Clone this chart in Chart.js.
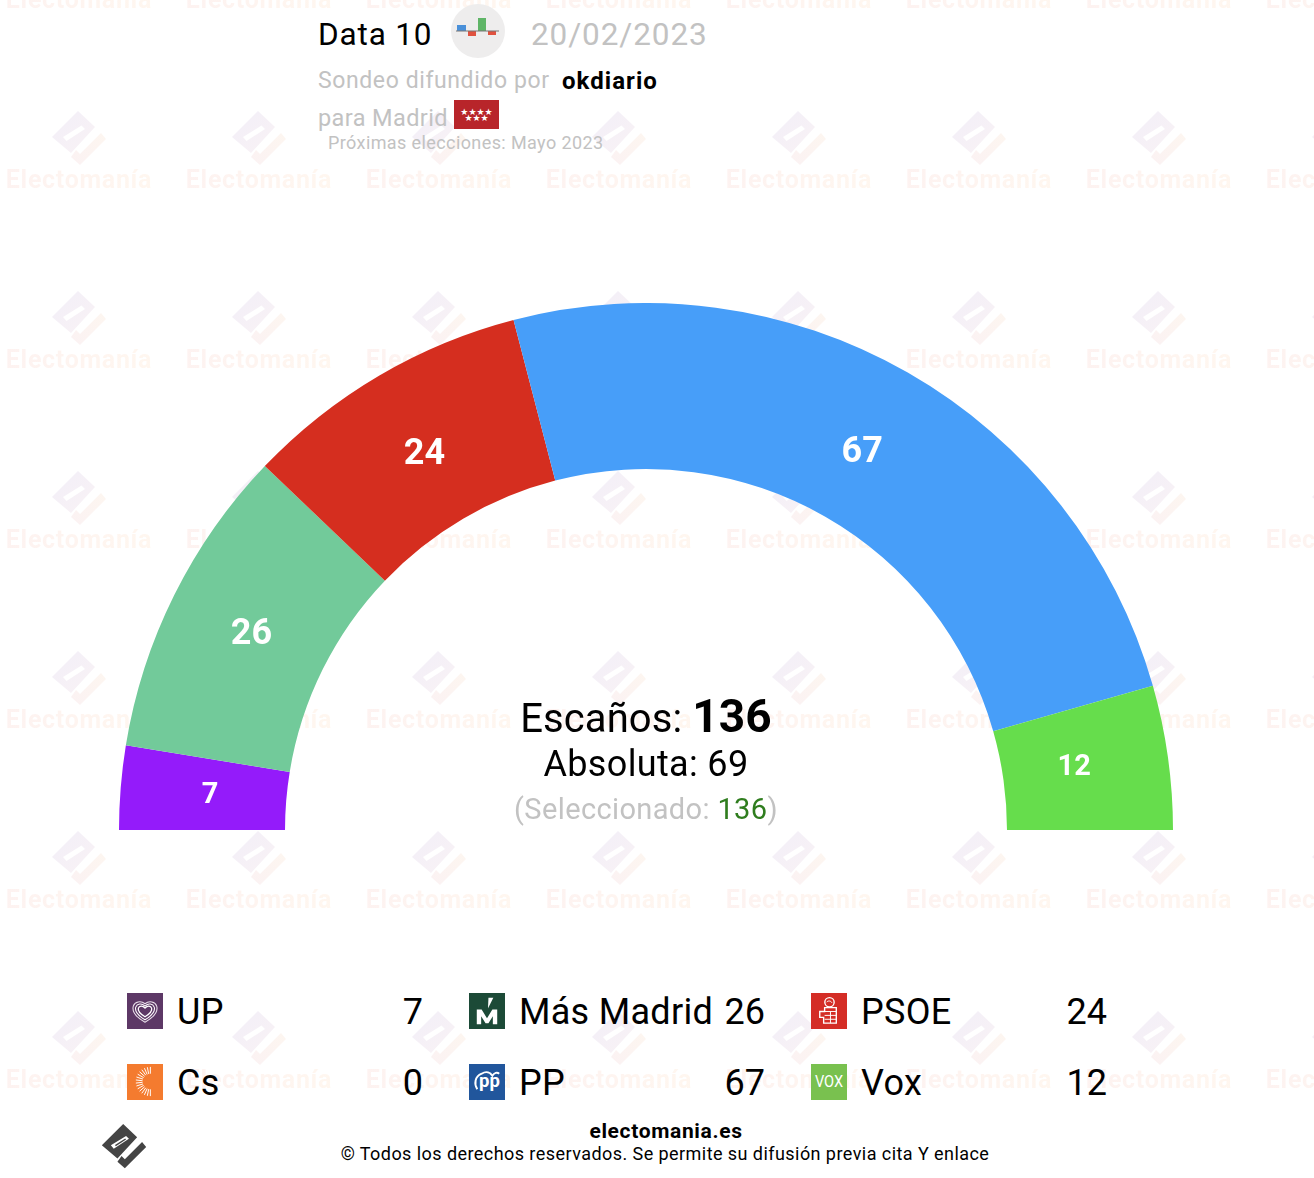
<!DOCTYPE html>
<html lang="es">
<head>
<meta charset="utf-8">
<title>Data 10 - Madrid</title>
<script src="https://cdn.jsdelivr.net/npm/chart.js@4"></script>
<style>
    html, body { margin: 0; padding: 0; background: #fff; }
    body { width: 1314px; height: 1178px; position: relative; overflow: hidden; font-family: Roboto, sans-serif; color: #000; }
    .abs { position: absolute; white-space: nowrap; }
    .wm-text {
        position: absolute; width: 180px; text-align: center; font-size: 25px; font-weight: 700; line-height: 30px; letter-spacing: 0.7px;
        background: linear-gradient(90deg, #fdf2f1, #fff7ef); -webkit-background-clip: text; background-clip: text; color: transparent;
    }
    .wm-logo { position: absolute; width: 54px; height: 56px; }
    #gauge { position: absolute; left: 119px; top: 303px; }
    .grey { color: #c2c2c2; }
    .center-line { position: absolute; left: 346px; width: 600px; text-align: center; white-space: nowrap; }
    .legend-label { position: absolute; font-size: 36px; line-height: 42px; white-space: nowrap; letter-spacing: 0.3px; }
    .legend-value { position: absolute; font-size: 36px; line-height: 42px; text-align: right; width: 80px; }
    .legend-icon { position: absolute; width: 36px; height: 36px; }
</style>
</head>
<body>

<svg width="0" height="0" style="position:absolute">
    <defs>
        <linearGradient id="wmBody" x1="0" y1="0" x2="1" y2="1"><stop offset="0" stop-color="#f2eff8"/><stop offset="1" stop-color="#f9f2f5"/></linearGradient>
        <linearGradient id="wmFoot" x1="0" y1="1" x2="1" y2="0"><stop offset="0" stop-color="#fbf2f3"/><stop offset="1" stop-color="#fdf6f0"/></linearGradient>
    </defs>
</svg>

<div id="watermarks"></div>

<!-- header -->
<div class="abs" style="left:318px;top:16px;font-size:31.5px;line-height:38px;letter-spacing:0.85px">Data 10</div>
<svg class="abs" style="left:450px;top:3px" width="56" height="56" viewBox="0 0 56 56">
    <circle cx="28" cy="28" r="27" fill="#eeeded"/>
    <rect x="7" y="22" width="9" height="6" fill="#4a90d9"/>
    <rect x="18" y="28" width="8" height="5" fill="#e0523f"/>
    <rect x="28" y="15" width="8" height="13" fill="#5fb567"/>
    <rect x="38" y="28" width="8" height="4" fill="#e0523f"/>
    <rect x="6" y="27.5" width="43" height="1" fill="#777"/>
</svg>
<div class="abs grey" style="left:531px;top:16px;font-size:31.5px;line-height:38px;letter-spacing:0.9px">20/02/2023</div>
<div class="abs grey" style="left:318px;top:67px;font-size:23px;line-height:28px;letter-spacing:0.6px">Sondeo difundido por</div>
<div class="abs" style="left:562px;top:67px;font-size:24px;line-height:28px;font-weight:700;letter-spacing:1.05px">okdiario</div>
<div class="abs grey" style="left:318px;top:104px;font-size:23.5px;line-height:28px;letter-spacing:0.4px">para Madrid</div>
<svg class="abs" style="left:454px;top:100px" width="45" height="29" viewBox="0 0 45 29">
    <rect width="45" height="29" fill="#b8252a"/>
    <text x="22.5" y="15" text-anchor="middle" font-family="DejaVu Sans" font-size="9" fill="#fff">★★★★</text>
    <text x="22.5" y="21" text-anchor="middle" font-family="DejaVu Sans" font-size="9" fill="#fff">★★★</text>
</svg>
<div class="abs grey" style="left:328px;top:132px;font-size:18px;line-height:22px;letter-spacing:0.4px">Próximas elecciones: Mayo 2023</div>

<canvas id="gauge" width="1054" height="527" style="width:1054px;height:527px"></canvas>

<!-- centre text -->
<div class="center-line" id="seatsLine" style="top:689px;line-height:54px;font-size:40px;letter-spacing:0.1px"></div>
<div class="center-line" id="majorityLine" style="top:743px;line-height:42px;font-size:36px;letter-spacing:0.35px"></div>
<div class="center-line grey" id="selectedLine" style="top:792px;line-height:34px;font-size:29px;letter-spacing:0.37px"></div>

<div id="legend"></div>

<!-- footer -->
<svg class="abs" style="left:101px;top:1124px" width="46" height="46" viewBox="0 0 54 56">
    <path fill="#444" fill-rule="evenodd" d="M26 0L43 16L19 42L0 26ZM11 26L14.5 30L33 18L29.5 14.5Z"/>
    <path fill="#444" d="M16 25.5L28.5 17.5L29.5 19L17 27Z"/>
    <path fill="#444" d="M19 46L28 54L54 28L49 22L28 43L24 39Z"/>
</svg>
<div class="abs" style="left:266px;width:800px;text-align:center;top:1118px;font-size:21px;line-height:26px;font-weight:700;letter-spacing:0.65px">electomania.es</div>
<div class="abs" style="left:265px;width:800px;text-align:center;top:1143px;font-size:18px;line-height:22px;letter-spacing:0.44px">© Todos los derechos reservados. Se permite su difusión previa cita Y enlace</div>

<script>
// Seats per party
const parties = ["UP", "Más Madrid", "PSOE", "Cs", "PP", "Vox"];
const seats = [7, 26, 24, 0, 67, 12];
const partyColors = ["#941bfa", "#72ca9a", "#d52e1f", "#f47b2f", "#479ef9", "#66dd4c"];

const totalSeats = 136;
const majoritySeats = 69;
const selectedSeats = 136;

function citizenRays() {
    // Sunburst of short strokes for the Cs icon
    let d = "";
    for (let deg = 90; deg <= 270; deg += 12) {
        const a = deg * Math.PI / 180;
        d += "M" + (24 + Math.cos(a) * 8).toFixed(1) + " " + (18 + Math.sin(a) * 8).toFixed(1)
            + "L" + (24 + Math.cos(a) * 15).toFixed(1) + " " + (18 + Math.sin(a) * 15).toFixed(1);
    }
    return d;
}

const legendIcons = {
    "UP": '<rect width="37" height="37" fill="#5d3866"/>'
        + '<path d="M18.5 30C8 24 5 18.5 6.5 13.5C8 9 14 7.5 18.5 11C23 7.5 29 9 30.5 13.5C32 18.5 29 24 18.5 30Z" fill="none" stroke="#e9dfea" stroke-width="1.1"/>'
        + '<path d="M18.5 27.5C10 22.5 8 18 9 14.5C10.5 11 15 10 18.5 13.5C22 10 26.5 11 28 14.5C29 18 27 22.5 18.5 27.5Z" fill="none" stroke="#fff" stroke-width="1.1"/>'
        + '<path d="M18.5 24.5C13 21 11 18 11.7 15.5C12.5 13 16 12.5 18.5 15.5C21 12.5 24.5 13 25.3 15.5C26 18 24 21 18.5 24.5Z" fill="none" stroke="#fff" stroke-width="1.3"/>',
    "Más Madrid": '<rect width="37" height="37" fill="#1c4a37"/>'
        + '<path d="M8 32V17H13L18.5 26L24 17H29V32H24.5V24L20 31H17L12.5 24V32Z" fill="#fff"/>'
        + '<path d="M20 5H25L19.5 16Z" fill="#fff"/>',
    "PSOE": '<rect width="37" height="37" fill="#d42d26"/>'
        + '<circle cx="19" cy="9.5" r="4.8" fill="none" stroke="#fff" stroke-width="1.4"/><path d="M16 9.5C17.5 7.5 20.5 8 21.5 10" fill="none" stroke="#fff" stroke-width="1"/>'
        + '<path d="M14 15H26V31H13V25H9V19H14Z" fill="none" stroke="#fff" stroke-width="1.4"/>'
        + '<path d="M14 19H26M14 23H26M14 27H26M20 19V31" stroke="#fff" stroke-width="1"/>',
    "Cs": '<rect width="37" height="37" fill="#f47b2f"/><path d="' + citizenRays() + '" stroke="#fff" stroke-width="1" fill="none"/>',
    "PP": '<rect width="37" height="37" fill="#21569c"/>'
        + '<path d="M8.5 26C5 20 6 13 13 10C18 7 22 9 24 12C26 9 29 8 31 10" fill="none" stroke="#fff" stroke-width="2"/>'
        + '<text x="21" y="24" text-anchor="middle" font-family="Roboto" font-weight="700" font-size="19" fill="#fff">pp</text>',
    "Vox": '<rect width="37" height="37" fill="#79c14f"/>'
        + '<text x="4" y="24" textLength="29" lengthAdjust="spacingAndGlyphs" font-family="Roboto" font-size="16.5" fill="#fff">VOX</text>'
};

// Repeating Electomanía watermark
function buildWatermarks() {
    const box = document.getElementById("watermarks");
    let html = "";
    for (let row = 0; row < 7; row++) {
        for (let col = 0; col < 8; col++) {
            const cx = 79 + col * 180;
            const top = row * 180;
            html += '<div class="wm-text" style="left:' + (cx - 90) + 'px;top:' + (top - 15) + 'px">Electomanía</div>';
            if (row > 0) {
                html += '<svg class="wm-logo" style="left:' + (cx - 27) + 'px;top:' + (top - 69) + 'px" viewBox="0 0 54 56">'
                    + '<path fill="url(#wmBody)" fill-rule="evenodd" d="M26 0L43 16L19 42L0 26ZM11 26L14.5 30L33 18L29.5 14.5Z"/>'
                    + '<path fill="url(#wmFoot)" d="M19 46L28 54L54 28L49 22L28 43L24 39Z"/></svg>';
            }
        }
    }
    box.innerHTML = html;
}

function buildCenterText() {
    document.getElementById("seatsLine").innerHTML = 'Escaños: <b style="font-size:46px">' + totalSeats + '</b>';
    document.getElementById("majorityLine").textContent = "Absoluta: " + majoritySeats;
    document.getElementById("selectedLine").innerHTML = '(Seleccionado: <span style="color:#2f7d1e">' + selectedSeats + '</span>)';
}

function buildLegend() {
    const box = document.getElementById("legend");
    const columns = [
        { icon: 127, label: 177, valueRight: 423 },
        { icon: 469, label: 519, valueRight: 765 },
        { icon: 811, label: 861, valueRight: 1107 }
    ];
    const rows = [{ icon: 993, text: 991 }, { icon: 1064, text: 1062 }];
    let html = "";
    parties.forEach(function(name, i) {
        const col = columns[i % 3];
        const row = rows[Math.floor(i / 3)];
        html += '<svg class="legend-icon" style="left:' + col.icon + 'px;top:' + row.icon + 'px" viewBox="0 0 37 37">' + legendIcons[name] + '</svg>';
        html += '<div class="legend-label" style="left:' + col.label + 'px;top:' + row.text + 'px">' + name + '</div>';
        html += '<div class="legend-value" style="left:' + (col.valueRight - 80) + 'px;top:' + row.text + 'px">' + seats[i] + '</div>';
    });
    box.innerHTML = html;
}

// Seat numbers on top of each arc
const arcLabels = {
    id: "arcLabels",
    afterDatasetsDraw(chart) {
        const ctx = chart.ctx;
        const meta = chart.getDatasetMeta(0);
        // small hand nudges from the arc centre line, in px
        const nudges = [[0, 1], [-3, 0], [0, 2], [0, 0], [-1, 3], [-5, -2]];
        ctx.save();
        ctx.fillStyle = "#fff";
        ctx.textAlign = "center";
        ctx.textBaseline = "middle";
        meta.data.forEach(function(arc, i) {
            if (!seats[i]) return;
            const p = arc.getProps(["x", "y", "startAngle", "endAngle", "innerRadius", "outerRadius"]);
            const mid = (p.startAngle + p.endAngle) / 2;
            const r = p.innerRadius + (p.outerRadius - p.innerRadius) * 0.46;
            ctx.font = "700 " + (seats[i] < 20 ? 29 : 36) + "px Roboto";
            ctx.fillText(String(seats[i]), p.x + Math.cos(mid) * r + nudges[i][0], p.y + Math.sin(mid) * r + nudges[i][1]);
        });
        ctx.restore();
    }
};

document.addEventListener("DOMContentLoaded", function() {
    buildWatermarks();
    buildCenterText();
    buildLegend();

    new Chart(document.getElementById("gauge"), {
        type: "doughnut",
        data: {
            labels: parties,
            datasets: [{
                data: seats,
                backgroundColor: partyColors,
                borderWidth: 0,
                hoverOffset: 0
            }]
        },
        options: {
            responsive: false,
            animation: false,
            rotation: -90,
            circumference: 180,
            cutout: "68.5%",
            layout: { padding: 0 },
            plugins: {
                legend: { display: false },
                tooltip: { enabled: false }
            }
        },
        plugins: [arcLabels]
    });
});
</script>
</body>
</html>
